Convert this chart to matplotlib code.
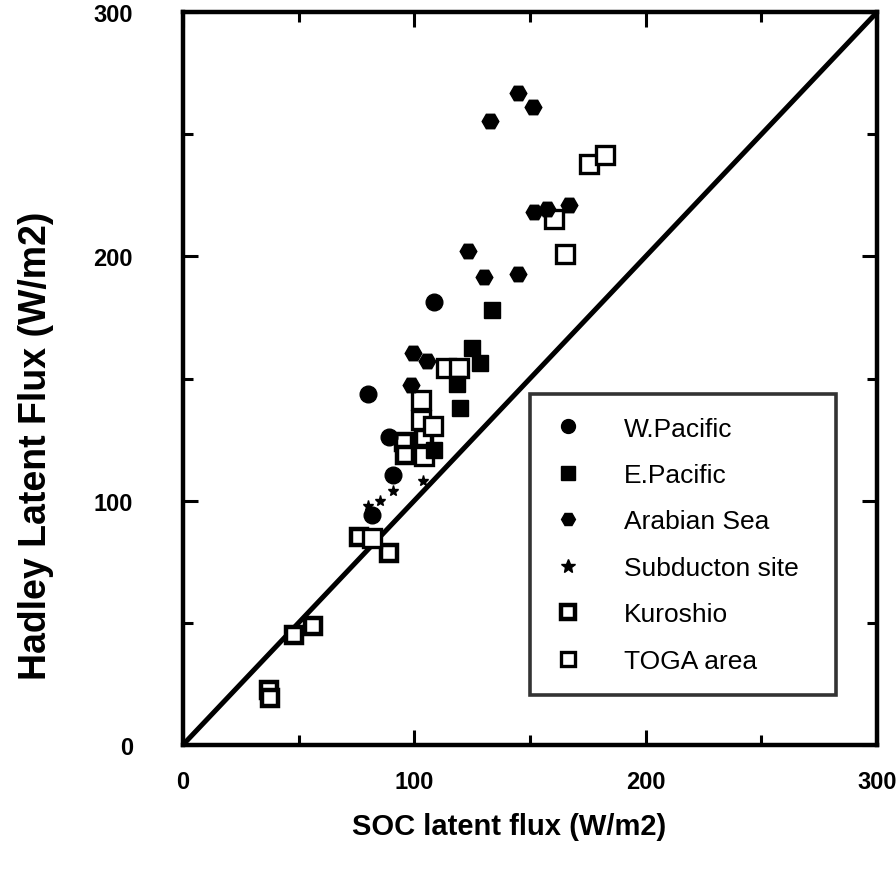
import matplotlib
matplotlib.use("Agg")
import matplotlib.pyplot as plt
import numpy as np

# 読み取った値 (SOC, Hadley)
wpac_x = [108.7, 80.2, 89.2, 90.9, 81.7]
wpac_y = [181.4, 143.5, 126.2, 110.7, 94.0]

epac_x = [133.6, 124.9, 128.2, 119.8, 118.4, 108.4]
epac_y = [178.2, 162.7, 156.5, 138.1, 147.9, 120.7]

arab_x = [144.8, 151.1, 132.8, 151.8, 157.4, 167.0, 123.2, 130.2, 144.9, 99.4, 105.3, 98.5]
arab_y = [266.7, 261.2, 255.3, 218.2, 219.2, 220.9, 202.1, 191.4, 192.9, 160.3, 157.2, 147.3]

subd_x = [103.7, 91.0, 85.3, 80.0]
subd_y = [108.2, 103.8, 99.9, 98.0]

kuro_x = [95.6, 104.3, 95.8, 76.2, 88.9, 48.1, 56.4, 37.4, 37.8]
kuro_y = [123.9, 125.7, 118.6, 85.2, 78.7, 45.2, 48.9, 22.4, 19.3]

toga_x = [175.3, 182.4, 160.3, 165.0, 113.8, 119.4, 102.7, 102.8, 107.9, 104.0, 81.8]
toga_y = [237.7, 241.6, 215.1, 200.8, 154.5, 154.3, 141.1, 132.9, 130.4, 118.4, 84.6]

plt.rcParams["font.family"] = ["Liberation Sans", "DejaVu Sans"]

fig = plt.figure(figsize=(8.96, 8.70), dpi=100)
ax = fig.add_axes([0.204, 0.1425, 0.775, 0.8425])

# 1:1 の線
ax.plot([0, 300], [0, 300], color="black", linewidth=3.6, zorder=1)

ax.plot(wpac_x, wpac_y, "o", color="black", ms=12, ls="none", label="W.Pacific", zorder=3)
ax.plot(epac_x, epac_y, "s", color="black", ms=11, ls="none", label="E.Pacific", zorder=3)
ax.plot(arab_x, arab_y, "H", color="black", ms=12, ls="none", label="Arabian Sea", zorder=3)
ax.plot(subd_x, subd_y, "*", color="black", ms=8, ls="none", label="Subducton site", zorder=3)
ax.plot(kuro_x, kuro_y, "s", mfc="white", mec="black", mew=3.2, ms=12, ls="none",
        label="Kuroshio", zorder=2)
ax.plot(toga_x, toga_y, "s", mfc="white", mec="black", mew=2.4, ms=13, ls="none",
        label="TOGA area", zorder=2)

ax.set_xlim(0, 300)
ax.set_ylim(0, 300)
ax.set_xticks([0, 100, 200, 300])
ax.set_yticks([0, 100, 200, 300])
ax.set_xticks([50, 150, 250], minor=True)
ax.set_yticks([50, 150, 250], minor=True)
ax.tick_params(which="both", direction="in", top=True, right=True, width=2.2, color="black")
ax.tick_params(which="major", length=11)
ax.tick_params(which="minor", length=7)
ax.tick_params(axis="x", which="major", pad=18)
ax.tick_params(axis="y", which="major", pad=36)
for lab in ax.get_xticklabels() + ax.get_yticklabels():
    lab.set_fontweight("bold")
    lab.set_fontsize(17)

for sp in ax.spines.values():
    sp.set_linewidth(3.2)

ax.set_xlabel("SOC latent flux (W/m2)", fontsize=21, fontweight="bold")
ax.xaxis.set_label_coords(0.47, -0.092)
ax.set_ylabel("Hadley Latent Flux (W/m2)", fontsize=27, fontweight="bold")
ax.yaxis.set_label_coords(-0.185, 0.41)

leg = ax.legend(loc="lower left", bbox_to_anchor=(0.5, 0.068, 0.44, 0.4), mode="expand",
                frameon=True, fancybox=False, edgecolor="black", prop={"size": 19},
                labelspacing=0.85, borderpad=0.85, handlelength=1.2, handletextpad=1.5,
                borderaxespad=0)
leg.get_frame().set_linewidth(2.6)
for h in leg.legend_handles:
    h.set_markersize(10)

fig.savefig("out.png", dpi=100, facecolor="white")
